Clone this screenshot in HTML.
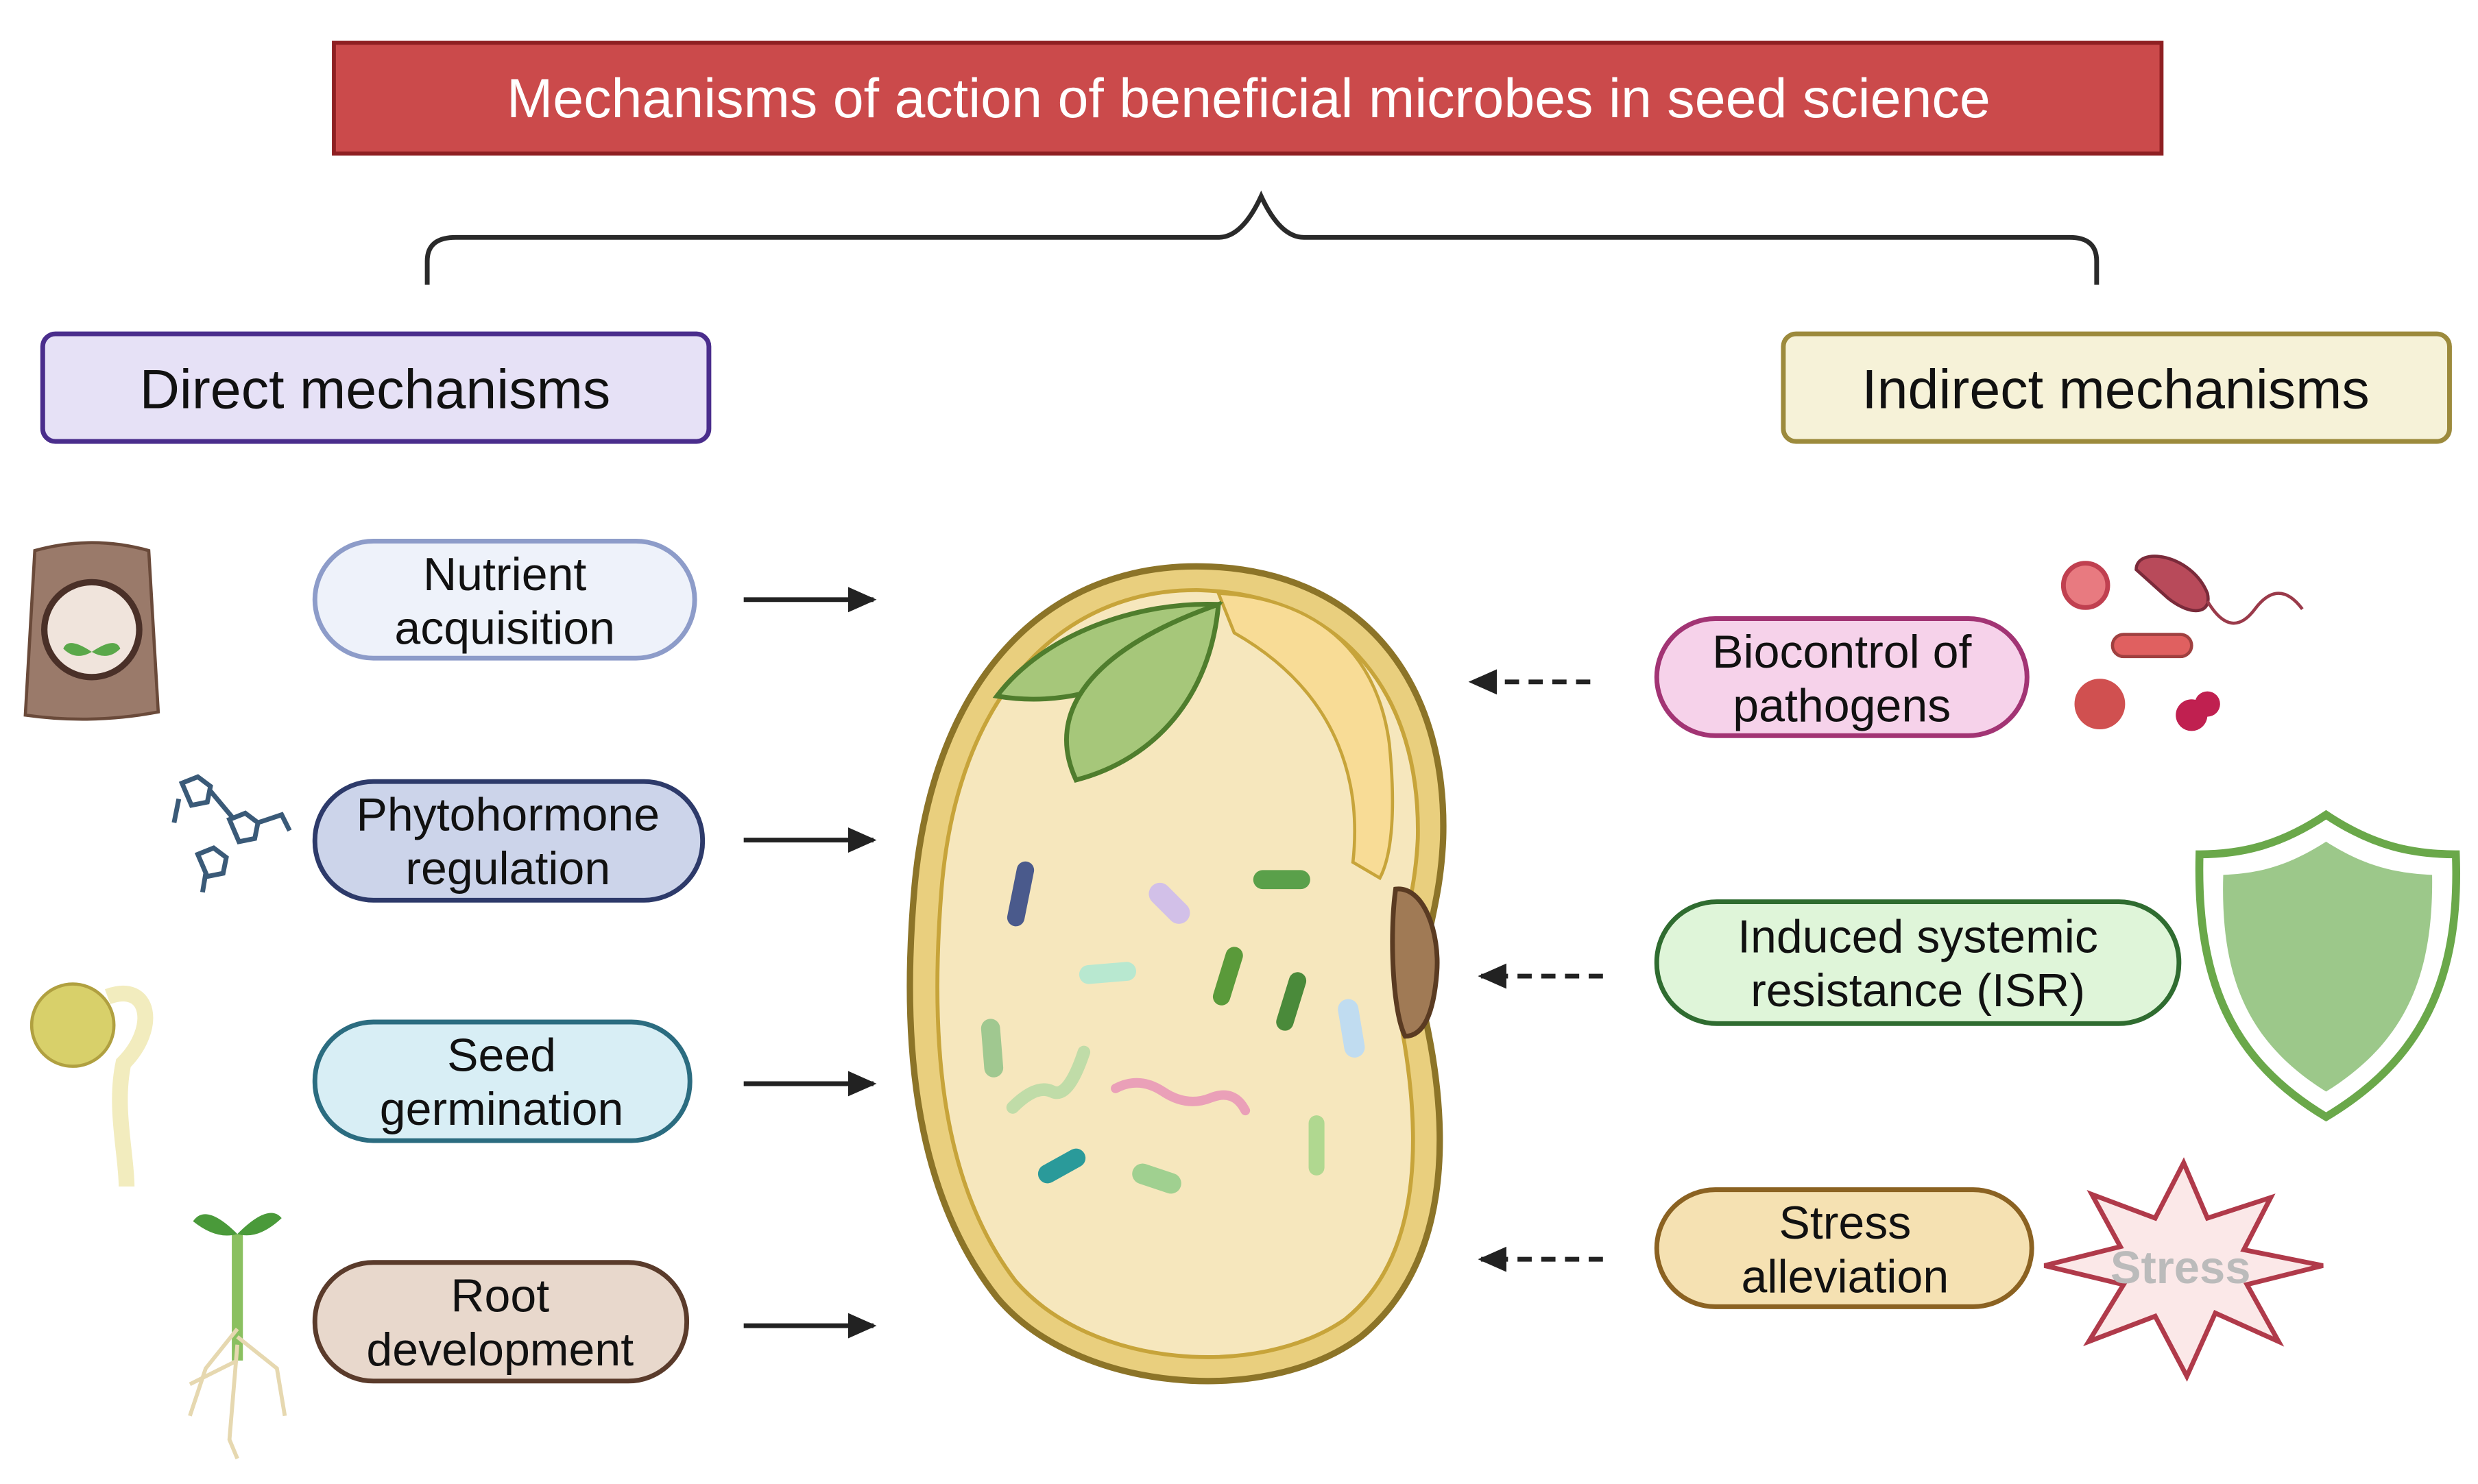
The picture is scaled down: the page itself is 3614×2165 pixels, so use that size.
<!DOCTYPE html>
<html><head><meta charset="utf-8"><style>
html,body{margin:0;padding:0;background:#fff}
svg{display:block}
text{font-family:"Liberation Sans",Arial,sans-serif}
</style></head><body>
<svg width="3614" height="2165" viewBox="0 0 1566 938" xmlns="http://www.w3.org/2000/svg">
<defs>
<marker id="ah" markerWidth="18" markerHeight="16" refX="16" refY="8" orient="auto" markerUnits="userSpaceOnUse"><path d="M0,0 L18,8 L0,16 z" fill="#222"/></marker>
</defs>
<rect width="1566" height="938" fill="#fff"/>
<!-- title -->
<rect x="211" y="27" width="1155" height="70" fill="#cb4a4b" stroke="#8e1f22" stroke-width="2.5"/>
<text x="789" y="74" text-anchor="middle" font-size="35" fill="#fff">Mechanisms of action of beneficial microbes in seed science</text>
<!-- brace -->
<path d="M270,180 L270,165 Q270,150 288,150 L770,150 Q785,150 797,124 Q809,150 824,150 L1308,150 Q1325,150 1325,165 L1325,180" fill="none" stroke="#2a2a2a" stroke-width="3"/>
<!-- headers -->
<rect x="27" y="211" width="421" height="68" rx="8" fill="#e6e1f6" stroke="#4a2d8c" stroke-width="3"/>
<text x="237" y="258" text-anchor="middle" font-size="35" fill="#111">Direct mechanisms</text>
<rect x="1127" y="211" width="421" height="68" rx="8" fill="#f6f2d8" stroke="#9c8a3c" stroke-width="3"/>
<text x="1337" y="258" text-anchor="middle" font-size="35" fill="#111">Indirect mechanisms</text>
<!-- left pills -->
<g font-size="29.5" fill="#111" text-anchor="middle">
<rect x="199" y="342" width="240" height="74" rx="37" fill="#eef2fa" stroke="#8d9cc9" stroke-width="3"/>
<text x="319" y="373">Nutrient</text><text x="319" y="407">acquisition</text>
<rect x="199" y="494" width="245" height="75" rx="37" fill="#ccd4ea" stroke="#2d3a6a" stroke-width="3"/>
<text x="321" y="525">Phytohormone</text><text x="321" y="559">regulation</text>
<rect x="199" y="646" width="237" height="75" rx="37" fill="#d8eef5" stroke="#2b6c80" stroke-width="3"/>
<text x="317" y="677">Seed</text><text x="317" y="711">germination</text>
<rect x="199" y="798" width="235" height="75" rx="37" fill="#e8d8cc" stroke="#5a3b2b" stroke-width="3"/>
<text x="316" y="829">Root</text><text x="316" y="863">development</text>
<!-- right pills -->
<rect x="1047" y="391" width="234" height="74" rx="37" fill="#f6d2ea" stroke="#a23474" stroke-width="3"/>
<text x="1164" y="422">Biocontrol of</text><text x="1164" y="456">pathogens</text>
<rect x="1047" y="570" width="330" height="77" rx="38" fill="#dff5d9" stroke="#2f6c30" stroke-width="3"/>
<text x="1212" y="602">Induced systemic</text><text x="1212" y="636">resistance (ISR)</text>
<rect x="1047" y="752" width="237" height="74" rx="37" fill="#f5e1b2" stroke="#8b6222" stroke-width="3"/>
<text x="1166" y="783">Stress</text><text x="1166" y="817">alleviation</text>
</g>
<!-- arrows -->
<g stroke="#222" stroke-width="3" marker-end="url(#ah)">
<line x1="470" y1="379" x2="552" y2="379"/>
<line x1="470" y1="531" x2="552" y2="531"/>
<line x1="470" y1="685" x2="552" y2="685"/>
<line x1="470" y1="838" x2="552" y2="838"/>
</g>
<g stroke="#222" stroke-width="3" stroke-dasharray="9,6" marker-end="url(#ah)">
<line x1="1005" y1="431" x2="930" y2="431"/>
<line x1="1013" y1="617" x2="936" y2="617"/>
<line x1="1013" y1="796" x2="936" y2="796"/>
</g>
<!-- seed -->
<path d="M760,358 C860,360 915,430 912,530 C910,580 895,600 900,640 C918,720 915,800 860,845 C800,890 680,880 630,820 C575,750 570,650 578,560 C590,430 660,356 760,358 Z" fill="#e9cf7e" stroke="#8c7428" stroke-width="4"/>
<path d="M758,373 C850,376 898,440 896,530 C894,575 880,598 884,640 C900,720 898,795 850,834 C795,872 690,865 642,810 C592,745 588,650 595,562 C605,440 670,372 758,373 Z" fill="#f6e7bd" stroke="#c7a43a" stroke-width="2.5"/>
<path d="M770,375 C830,378 870,410 878,470 C882,510 880,540 872,555 L855,545 C860,500 850,440 780,400 Z" fill="#f8dc96" stroke="#c7a43a" stroke-width="2"/>
<path d="M882,562 C900,560 910,590 908,615 C906,640 900,655 888,655 C880,640 878,590 882,562 Z" fill="#a07a55" stroke="#5a3b22" stroke-width="3"/>
<path d="M630,440 C660,400 720,380 770,382 C740,420 690,450 630,440 Z" fill="#a6c77a" stroke="#4f7d2d" stroke-width="3"/>
<path d="M680,493 C660,450 690,410 770,382 C765,440 730,480 680,493 Z" fill="#a6c77a" stroke="#4f7d2d" stroke-width="3"/>
<!-- bacteria -->
<g stroke-linecap="round">
<line x1="648" y1="550" x2="642" y2="580" stroke="#4a5a8c" stroke-width="11"/>
<line x1="733" y1="565" x2="745" y2="577" stroke="#d2c0e8" stroke-width="14"/>
<line x1="798" y1="556" x2="822" y2="556" stroke="#5aa04a" stroke-width="12"/>
<line x1="688" y1="616" x2="712" y2="614" stroke="#b8e8d0" stroke-width="12"/>
<line x1="780" y1="604" x2="772" y2="630" stroke="#5a9a3a" stroke-width="11"/>
<line x1="820" y1="620" x2="812" y2="646" stroke="#4a8a3a" stroke-width="11"/>
<line x1="852" y1="638" x2="856" y2="662" stroke="#c0dcf0" stroke-width="13"/>
<line x1="626" y1="650" x2="628" y2="675" stroke="#a0c890" stroke-width="12"/>
<line x1="662" y1="742" x2="680" y2="732" stroke="#2a9a9a" stroke-width="12"/>
<line x1="722" y1="742" x2="740" y2="748" stroke="#a0d090" stroke-width="13"/>
<line x1="832" y1="710" x2="832" y2="738" stroke="#b0d890" stroke-width="10"/>
<path d="M705,688 q15,-8 30,2 t30,4 t22,8" fill="none" stroke="#eaa0b8" stroke-width="6"/>
<path d="M640,700 q15,-15 25,-10 t20,-25" fill="none" stroke="#c0dca8" stroke-width="8"/>
</g>
<!-- left icons -->
<path d="M22,348 Q58,338 94,348 L100,450 Q58,458 16,452 Z" fill="#9a7a6a" stroke="#6a4a3a" stroke-width="2"/>
<circle cx="58" cy="398" r="30" fill="#f0e4dc" stroke="#4a3028" stroke-width="4"/>
<path d="M58,412 q-15,-10 -18,-2 q8,8 18,2 q15,-10 18,-2 q-8,8 -18,2" fill="#5aa84a"/>
<g stroke="#3a5a78" stroke-width="3" fill="none">
<path d="M115,495 l10,-4 l8,6 l-2,10 l-10,2 z M133,500 l15,18 M145,518 l10,-4 l8,6 l-2,10 l-10,2 z M163,520 l15,-5 l5,10 M125,540 l10,-4 l8,6 l-2,10 l-10,2 z M130,552 l-2,12 M113,505 l-3,15"/>
</g>
<ellipse cx="46" cy="648" rx="26" ry="26" fill="#d8d06a" stroke="#b0a040" stroke-width="2"/>
<path d="M68,630 C95,620 100,650 78,672 C72,700 80,730 80,750" fill="none" stroke="#f2ecbe" stroke-width="10"/>
<path d="M150,780 L150,860" stroke="#8ac060" stroke-width="7"/>
<path d="M150,780 q-20,-20 -28,-8 q15,12 28,8 q20,-20 28,-10 q-15,14 -28,10" fill="#4a9a3a"/>
<g stroke="#e6d8b0" stroke-width="2.5" fill="none">
<path d="M150,840 l-20,25 l-10,30 M150,845 l25,20 l5,30 M150,850 l-5,60 l5,12 M150,860 l-30,15"/>
</g>
<!-- right icons -->
<circle cx="1318" cy="370" r="14" fill="#e87a80" stroke="#c04050" stroke-width="3"/>
<path d="M1350,360 C1350,345 1385,350 1395,375 C1398,388 1385,390 1370,378 Z" fill="#b84a5a" stroke="#7a2a3a" stroke-width="2"/>
<path d="M1395,380 q15,25 30,5 t30,0" fill="none" stroke="#9a3a4a" stroke-width="2"/>
<rect x="1335" y="401" width="50" height="14" rx="7" fill="#e06060" stroke="#a04040" stroke-width="2"/>
<circle cx="1327" cy="445" r="16" fill="#d05050"/>
<circle cx="1385" cy="452" r="10" fill="#c02050"/>
<circle cx="1395" cy="445" r="8" fill="#c02050"/>
<path d="M1470,515 C1500,535 1525,540 1552,540 C1555,620 1530,670 1470,706 C1410,670 1388,620 1390,540 C1415,540 1440,535 1470,515 Z" fill="#fff" stroke="#6aa84a" stroke-width="5"/>
<path d="M1470,532 C1495,548 1515,552 1537,553 C1538,620 1518,660 1470,690 C1422,660 1403,620 1405,553 C1427,552 1445,548 1470,532 Z" fill="#9cc88a"/>
<path d="M1380,735 L1395,770 L1435,757 L1418,790 L1468,800 L1420,812 L1440,848 L1400,830 L1382,870 L1362,832 L1320,848 L1342,812 L1292,800 L1340,788 L1322,755 L1362,770 Z" fill="#fbe8e8" stroke="#b03a4a" stroke-width="3"/>
<text x="1378" y="811" text-anchor="middle" font-size="29" font-weight="bold" fill="#bbb">Stress</text>
</svg>
</body></html>
